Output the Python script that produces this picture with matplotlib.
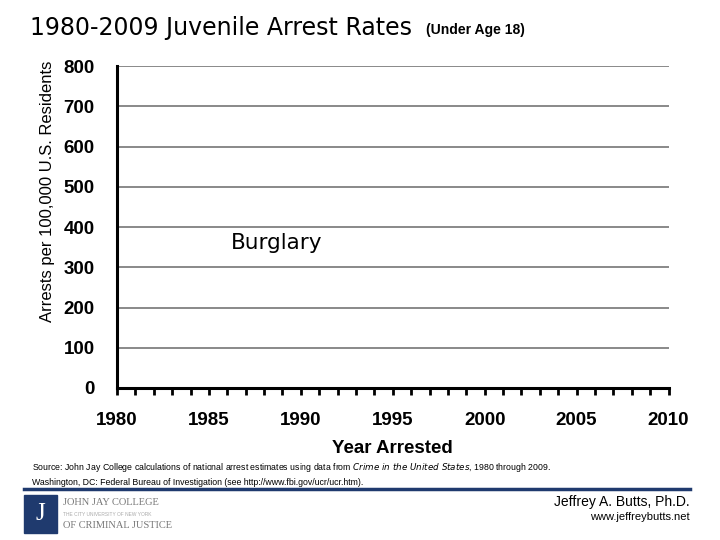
import matplotlib
matplotlib.use("Agg")
import matplotlib.pyplot as plt
from matplotlib.patches import Rectangle
from matplotlib.lines import Line2D

# chart values
title = "1980-2009 Juvenile Arrest Rates"
subtitle = "(Under Age 18)"
offense = "Burglary"
offense_pos = (1986.2, 360)
x_min, x_max = 1980, 2010
y_min, y_max = 0, 800
x_labels = [1980, 1985, 1990, 1995, 2000, 2005, 2010]
y_labels = [0, 100, 200, 300, 400, 500, 600, 700, 800]
minor_years = list(range(1980, 2011))

navy = "#1f3a6e"
grid_gray = "#808080"

plt.rcParams["font.family"] = ["Liberation Sans", "DejaVu Sans"]

fig = plt.figure(figsize=(7.2, 5.4), dpi=100)
ax = fig.add_axes([0.1625, 0.2815, 0.766, 0.596])

ax.set_xlim(x_min, x_max)
ax.set_ylim(y_min, y_max)
ax.set_yticks(y_labels)
ax.set_yticklabels([str(v) for v in y_labels], fontsize=13.5, fontweight="bold")
ax.set_xticks(x_labels)
ax.set_xticklabels([str(v) for v in x_labels], fontsize=13.5, fontweight="bold")
ax.set_xticks(minor_years, minor=True)

ax.tick_params(axis="y", length=0, pad=16)
ax.tick_params(axis="x", which="both", direction="out", length=5, width=2, pad=12)

for v in y_labels[1:]:
    ax.axhline(v, color=grid_gray, lw=1.3, zorder=1)

for s in ["top", "right"]:
    ax.spines[s].set_visible(False)
ax.spines["left"].set_linewidth(2.2)
ax.spines["bottom"].set_linewidth(2.2)

ax.set_xlabel("Year Arrested", fontsize=13.5, fontweight="bold", labelpad=8)
ax.set_ylabel("Arrests per 100,000 U.S. Residents", fontsize=12)
ax.yaxis.set_label_coords(-0.112, 0.612)

ax.text(offense_pos[0], offense_pos[1], offense, fontsize=15.5, family="DejaVu Sans",
        va="center", ha="left")

# title
fig.text(0.042, 0.948, title, fontsize=17, family="DejaVu Sans", va="center", ha="left")
fig.text(0.592, 0.944, subtitle, fontsize=10, fontweight="bold", va="center", ha="left")

# source note
fig.text(0.045, 0.135,
         "Source: John Jay College calculations of national arrest estimates using data from "
         "$\\it{Crime\\ in\\ the\\ United\\ States}$, 1980 through 2009.",
         fontsize=6.3, va="center", ha="left")
fig.text(0.045, 0.107,
         "Washington, DC: Federal Bureau of Investigation (see http://www.fbi.gov/ucr/ucr.htm).",
         fontsize=6.3, va="center", ha="left")

fig.add_artist(Line2D([0.034, 0.958], [0.094, 0.094], color=navy, lw=2.5,
                      transform=fig.transFigure))

# logo
fig.add_artist(Rectangle((0.034, 0.013), 0.045, 0.071, color=navy,
                         transform=fig.transFigure))
fig.text(0.0565, 0.048, "J", fontsize=18, color="white", family="Liberation Serif",
         va="center", ha="center")
fig.text(0.088, 0.07, "JOHN JAY COLLEGE", fontsize=7.5, color="#777777",
         family="Liberation Serif", va="center", ha="left")
fig.text(0.088, 0.048, "THE CITY UNIVERSITY OF NEW YORK", fontsize=3.5, color="#aaaaaa",
         va="center", ha="left")
fig.text(0.088, 0.026, "OF CRIMINAL JUSTICE", fontsize=7.5, color="#777777",
         family="Liberation Serif", va="center", ha="left")

# author
fig.text(0.958, 0.07, "Jeffrey A. Butts, Ph.D.", fontsize=10, va="center", ha="right")
fig.text(0.958, 0.042, "www.jeffreybutts.net", fontsize=8, va="center", ha="right")

fig.savefig("out.png", dpi=100)
